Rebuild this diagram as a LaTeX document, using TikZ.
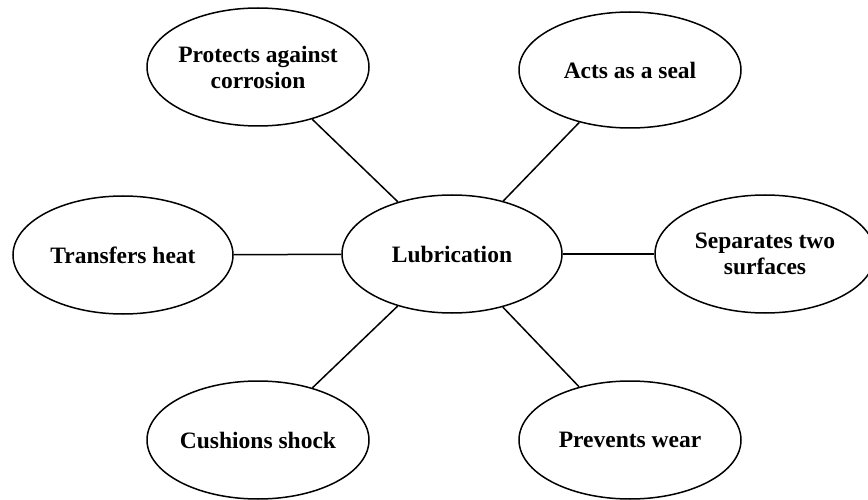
\documentclass[tikz,border=0pt]{standalone}
\usepackage{fontspec}
\setmainfont{Liberation Serif}
\usetikzlibrary{shapes.geometric}
\begin{document}
\begin{tikzpicture}[x=1pt,y=-1pt,
  bub/.style={ellipse,draw,line width=1.5pt,minimum width=222pt,minimum height=118pt,inner sep=0pt},
  txt/.style={align=center,inner sep=0pt,font=\fontsize{23.5}{26}\selectfont\bfseries},
  link/.style={line width=1.5pt}]
\useasboundingbox (0,0) rectangle (868,500);
\node[bub] (prot) at (258,67) {};
\node[txt] (protT) at (prot.center) {Protects against\\corrosion};
\node[bub,minimum height=116pt] (seal) at (630,70) {};
\node[txt] (sealT) at (seal.center) {Acts as a seal};
\node[bub,minimum width=220pt] (heat) at (123,255) {};
\node[txt] (heatT) at (heat.center) {Transfers heat};
\node[bub,minimum width=220pt] (lub) at (452,254) {};
\node[txt] (lubT) at (lub.center) {Lubrication};
\node[bub,minimum width=220pt] (sep) at (765,254) {};
\node[txt] (sepT) at (sep.center) {Separates two\\surfaces};
\node[bub] (cush) at (258,440) {};
\node[txt] (cushT) at (cush.center) {Cushions shock};
\node[bub] (wear) at (630,440) {};
\node[txt] (wearT) at (wear.center) {Prevents wear};
\draw[link] (lub) -- (prot);
\draw[link] (lub) -- (seal);
\draw[link] (lub) -- (heat);
\draw[link] (lub) -- (sep);
\draw[link] (lub) -- (cush);
\draw[link] (lub) -- (wear);
\end{tikzpicture}
\end{document}
